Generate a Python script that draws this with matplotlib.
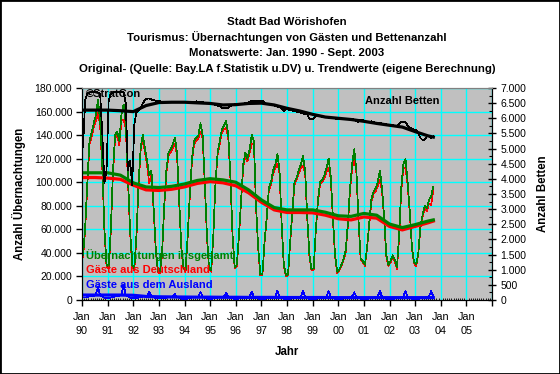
import numpy as np
import matplotlib.pyplot as plt
from matplotlib.patches import Rectangle
from matplotlib.ticker import MultipleLocator, FuncFormatter

plt.rcParams['font.family'] = ['Liberation Sans', 'DejaVu Sans']

# Monatswerte Jan. 1990 - Sept. 2003 (je Zeile ein Jahr)
insgesamt = [
    38000, 62000, 100000, 135000, 142000, 150000, 157000, 170000, 152000, 115000, 60000, 30000,
    28000, 60000, 110000, 140000, 143000, 135000, 158000, 166000, 150000, 105000, 60000, 30000,
    27000, 55000, 100000, 130000, 140000, 128000, 118000, 106000, 110000, 80000, 45000, 25000,
    24000, 40000, 80000, 110000, 125000, 128000, 132000, 138000, 125000, 85000, 45000, 28000,
    25000, 55000, 90000, 120000, 135000, 138000, 140000, 150000, 140000, 100000, 55000, 27000,
    25000, 55000, 100000, 125000, 135000, 145000, 148000, 152000, 140000, 105000, 55000, 28000,
    30000, 55000, 85000, 115000, 125000, 120000, 128000, 140000, 135000, 80000, 45000, 22000,
    22000, 50000, 70000, 95000, 100000, 110000, 115000, 124000, 110000, 65000, 30000, 21000,
    22000, 50000, 75000, 100000, 104000, 110000, 115000, 122000, 110000, 70000, 38000, 26000,
    27000, 60000, 85000, 100000, 102000, 106000, 112000, 120000, 105000, 70000, 38000, 24000,
    26000, 30000, 35000, 42000, 65000, 95000, 115000, 128000, 110000, 68000, 35000, 33000,
    30000, 45000, 65000, 85000, 92000, 95000, 100000, 110000, 95000, 70000, 38000, 30000,
    33000, 38000, 34000, 28000, 55000, 95000, 115000, 120000, 100000, 75000, 45000, 32000,
    30000, 40000, 63000, 72000, 80000, 78000, 85000, 88000, 96000,
]
deutschland = [
    36000, 60000, 97500, 132000, 138500, 146500, 152000, 159000, 148000, 112000, 58000, 28500,
    26500, 58000, 107500, 137000, 139500, 131500, 153000, 153000, 146000, 102000, 58000, 28500,
    25500, 53500, 98000, 127500, 137000, 125000, 114500, 99000, 107000, 77500, 43500, 23800,
    22800, 38800, 78500, 108000, 122500, 125500, 129000, 133000, 122500, 83000, 43800, 27000,
    24000, 53800, 88500, 118000, 132500, 135500, 137000, 143000, 137500, 98000, 53800, 26000,
    24000, 53800, 98500, 123000, 133000, 142500, 145000, 146000, 137500, 103000, 53800, 27000,
    29000, 53800, 83500, 113000, 123000, 117500, 125000, 133000, 132500, 78200, 43800, 21000,
    21000, 49000, 68500, 93200, 98000, 107500, 112000, 116000, 107500, 63200, 29000, 20000,
    21000, 49000, 73500, 98200, 102000, 107500, 112000, 114000, 107500, 68200, 37000, 25000,
    26000, 59000, 83500, 98200, 100000, 103500, 109000, 112500, 102500, 68200, 37000, 23000,
    25000, 29000, 33800, 40500, 63200, 92500, 112000, 121500, 107500, 66200, 34000, 32000,
    29000, 44000, 63800, 83500, 90000, 92500, 97000, 102000, 92500, 68200, 37000, 29000,
    32000, 37000, 32800, 26500, 53000, 92500, 112000, 112500, 97500, 73200, 44000, 31000,
    29000, 39000, 61800, 70500, 78000, 75500, 82000, 80500, 93000,
]
ausland = [
    2000, 2000, 2500, 3000, 3500, 3500, 5000, 11000, 4000, 3000, 2000, 1500,
    1500, 2000, 2500, 3000, 3500, 3500, 5000, 13000, 4000, 3000, 2000, 1500,
    1500, 1500, 2000, 2500, 3000, 3000, 3500, 7000, 3000, 2500, 1500, 1200,
    1200, 1200, 1500, 2000, 2500, 2500, 3000, 5000, 2500, 2000, 1200, 1000,
    1000, 1200, 1500, 2000, 2500, 2500, 3000, 7000, 2500, 2000, 1200, 1000,
    1000, 1200, 1500, 2000, 2000, 2500, 3000, 6000, 2500, 2000, 1200, 1000,
    1000, 1200, 1500, 2000, 2000, 2500, 3000, 7000, 2500, 1800, 1200, 1000,
    1000, 1000, 1500, 1800, 2000, 2500, 3000, 8000, 2500, 1800, 1000, 1000,
    1000, 1000, 1500, 1800, 2000, 2500, 3000, 8000, 2500, 1800, 1000, 1000,
    1000, 1000, 1500, 1800, 2000, 2500, 3000, 7500, 2500, 1800, 1000, 1000,
    1000, 1000, 1200, 1500, 1800, 2500, 3000, 6500, 2500, 1800, 1000, 1000,
    1000, 1000, 1200, 1500, 2000, 2500, 3000, 8000, 2500, 1800, 1000, 1000,
    1000, 1000, 1200, 1500, 2000, 2500, 3000, 7500, 2500, 1800, 1000, 1000,
    1000, 1000, 1200, 1500, 2000, 2500, 3000, 7500, 3000,
]
betten = [
    5060, 6600, 6820, 6850, 6870, 6870, 6870, 6850, 6800, 5500, 3850, 4300,
    6600, 6800, 6850, 6870, 6870, 6870, 6870, 6850, 6500, 4300, 4600, 3800,
    5800, 6200, 6250, 6350, 6500, 6600, 6650, 6650, 6620, 6600, 6580, 6560,
    6560, 6540, 6520, 6520, 6530, 6540, 6540, 6540, 6530, 6520, 6520, 6520,
    6520, 6520, 6530, 6540, 6550, 6560, 6550, 6540, 6530, 6520, 6510, 6500,
    6480, 6460, 6440, 6420, 6400, 6350, 6330, 6330, 6350, 6400, 6440, 6460,
    6470, 6480, 6480, 6480, 6500, 6520, 6540, 6580, 6580, 6580, 6580, 6580,
    6580, 6500, 6480, 6460, 6450, 6430, 6410, 6390, 6370, 6340, 6230, 6300,
    6290, 6270, 6250, 6240, 6220, 6200, 6180, 6160, 6140, 6120, 5980, 5960,
    6000, 6080, 6080, 6060, 6050, 6040, 6030, 6020, 6010, 6000, 5990, 5980,
    5990, 5990, 5990, 5990, 5980, 5980, 5970, 5960, 5900, 5880, 5960, 5950,
    5880, 5860, 5880, 5900, 5870, 5860, 5850, 5840, 5830, 5810, 5800, 5790,
    5780, 5770, 5760, 5760, 5820, 5880, 5880, 5870, 5760, 5700, 5660, 5620,
    5600, 5500, 5350, 5280, 5300, 5400, 5420, 5350, 5400,
]

# Trendwerte (eigene Berechnung), halbjaehrlich
trend_jahr = [1990.0, 1990.5, 1991.0, 1991.5, 1992.0, 1992.5, 1993.0, 1993.5,
              1994.0, 1994.5, 1995.0, 1995.5, 1996.0, 1996.5, 1997.0, 1997.5,
              1998.0, 1998.5, 1999.0, 1999.5, 2000.0, 2000.5, 2001.0, 2001.5,
              2002.0, 2002.5, 2003.0, 2003.5, 2003.71]
trend_insgesamt = [108000, 108000, 108000, 106000, 99500, 96000, 95500, 96500,
                   98500, 101500, 103000, 102000, 100000, 93500, 85000, 78500,
                   76500, 76500, 76500, 74500, 71500, 71000, 73500, 72000,
                   64500, 61500, 64000, 67000, 68000]
trend_deutschland = [104000, 104000, 103500, 102500, 97500, 93500, 93000, 94000,
                     96000, 99000, 100500, 99500, 97000, 91000, 83000, 76500,
                     74300, 74300, 74000, 72000, 69000, 68000, 70500, 69500,
                     62500, 59500, 62500, 65500, 67000]
trend_ausland = [4200, 4200, 4200, 4200, 4000, 3000, 2700, 2600,
                 2500, 2400, 2400, 2300, 2300, 2200, 2200, 2200,
                 2100, 2100, 2100, 2100, 2000, 2000, 2000, 2000,
                 2000, 2000, 2000, 2000, 2000]
trend_betten = [6270, 6270, 6270, 6250, 6220, 6420, 6520, 6530,
                6530, 6510, 6490, 6440, 6450, 6490, 6500, 6440,
                6330, 6240, 6130, 6040, 6000, 5960, 5900, 5830,
                5770, 5710, 5560, 5420, 5380]

jahre = list(range(1990, 2007))
jahr_labels = ['Jan\n%02d' % (j % 100) for j in range(1990, 2006)] + ['']

t = 1990 + (np.arange(len(insgesamt)) + 0.5) / 12

fig = plt.figure(figsize=(5.6, 3.74), dpi=100)
ax = fig.add_axes([82 / 560, 74 / 374, 410 / 560, 212 / 374])
ax.set_facecolor('#C0C0C0')

# Gitter
for j in jahre:
    ax.axvline(j, color='#00FFFF', lw=1, zorder=1)
for v in range(20000, 180001, 20000):
    ax.axhline(v, color='#00FFFF', lw=1, zorder=1)

# duenne Linien ohne Kantenglaettung wie im Original
thin = dict(lw=0.5, antialiased=False)
ax.plot(t, deutschland, color='red', zorder=3, **thin)
ax.plot(t, insgesamt, color='#008000', zorder=4, **thin)
ax.plot(t, ausland, color='blue', zorder=4, **thin)
ax.plot(trend_jahr, trend_deutschland, color='red', lw=2.3, zorder=5)
ax.plot(trend_jahr, trend_insgesamt, color='#008000', lw=2.3, zorder=5)
ax.plot(trend_jahr, trend_ausland, color='blue', lw=2.3, zorder=5)

ax.set_xlim(1990, 2006)
ax.set_ylim(0, 180000)
ax.set_xticks(jahre)
ax.set_xticklabels(jahr_labels, linespacing=1.45)
ax.xaxis.set_minor_locator(MultipleLocator(1 / 12))
ax.yaxis.set_major_locator(MultipleLocator(20000))
de_fmt = FuncFormatter(lambda v, p: f"{int(v):,}".replace(",", "."))
ax.yaxis.set_major_formatter(de_fmt)
ax.tick_params(axis='y', direction='out', length=4, width=1, pad=3, labelsize=7.5)
ax.tick_params(axis='x', which='major', direction='out', length=4, width=1, pad=5, labelsize=7.8)
ax.tick_params(axis='x', which='minor', direction='in', length=1.5, width=0.6)
for s in ['left', 'bottom', 'right']:
    ax.spines[s].set_color('black')
ax.spines['top'].set_color('#808080')

ax2 = ax.twinx()
ax2.plot(t, betten, color='black', zorder=3, **thin)
ax2.plot(trend_jahr, trend_betten, color='black', lw=2.3, zorder=4)
ax2.set_ylim(0, 7000)
ax2.yaxis.set_major_locator(MultipleLocator(500))
ax2.yaxis.set_minor_locator(MultipleLocator(250))
ax2.yaxis.set_major_formatter(de_fmt)
ax2.tick_params(axis='y', which='major', direction='inout', length=6, width=1, pad=3, labelsize=7.5)
ax2.tick_params(axis='y', which='minor', direction='in', length=2.5, width=0.8)
ax2.spines['top'].set_color('#808080')

# Beschriftungen im Diagramm
bold = dict(fontsize=8, fontweight='bold', zorder=10)
ax2.text(1990.17, 7000 * (1 - 6.3 / 212), '©StratCon', color='black', va='center', **bold)
ax2.text(2001.05, 7000 * (1 - 13 / 212), 'Anzahl Betten', color='black', va='center', **bold)
ax2.text(1990.17, 7000 * 45 / 212, 'Übernachtungen insgesamt', color='#008000', va='center', **bold)
ax2.text(1990.17, 7000 * 30 / 212, 'Gäste aus Deutschland', color='red', va='center', **bold)
ax2.text(1990.17, 7000 * 15 / 212, 'Gäste aus dem Ausland', color='blue', va='center', **bold)

ax.set_ylabel('Anzahl Übernachtungen', fontsize=8.3, fontweight='bold', labelpad=6)
ax2.set_ylabel('Anzahl Betten', fontsize=8.3, fontweight='bold', rotation=90, labelpad=8)
fig.text(287 / 560, 1 - 352 / 374, 'Jahr', ha='center', va='center', fontsize=8.3, fontweight='bold')

titel = ['Stadt Bad Wörishofen',
         'Tourismus: Übernachtungen von Gästen und Bettenanzahl',
         'Monatswerte: Jan. 1990 - Sept. 2003',
         'Original- (Quelle: Bay.LA f.Statistik u.DV) u. Trendwerte (eigene Berechnung)']
for i, zeile in enumerate(titel):
    fig.text(287 / 560, 1 - (22 + 15.5 * i) / 374, zeile, ha='center', va='center',
             fontsize=8.2, fontweight='bold')

fig.patches.append(Rectangle((0, 0), 1, 1, transform=fig.transFigure, fill=False,
                             edgecolor='black', lw=2))

plt.savefig('out.png', dpi=100)
